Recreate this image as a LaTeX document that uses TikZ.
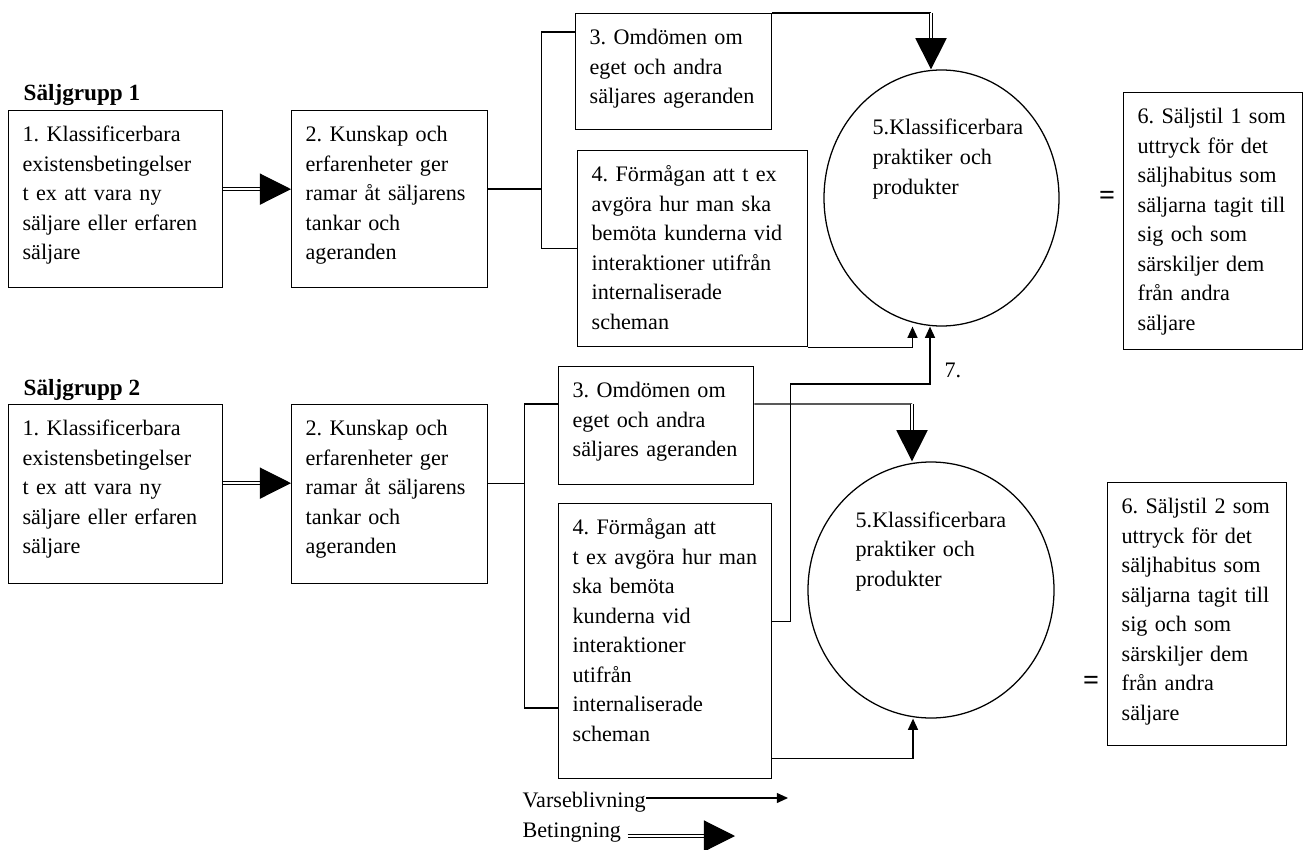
\documentclass[tikz,border=0pt]{standalone}
\usepackage{fontspec}
\setmainfont{Liberation Serif}
\usepackage{tikz}
\usetikzlibrary{arrows.meta,shapes.geometric}
\frenchspacing
\hyphenpenalty=10000
\tikzset{
    every node/.style={font=\fontsize{15.75pt}{21pt}\selectfont}
}
\tikzset{
    textbox/.style={draw, anchor=north west, align=left,
        inner xsep=0.35cm, inner ysep=0pt, text height=0.775cm},
    circ/.style={draw, ellipse, inner sep=0pt},
    txt/.style={align=left, inner sep=0pt, text width=4cm},
    lbl/.style={inner sep=0pt},
    eqs/.style={font=\fontsize{20pt}{24pt}\selectfont\bfseries}
}
\tikzset{
    perc/.style={-{Triangle[length=0.28cm, width=0.25cm]}},
    cond/.style={line width=0.8pt, double, double distance=1.5pt,
        -{Triangle[length=0.78cm, width=0.78cm]}}
}

\begin{document}
\begin{tikzpicture}[line width=0.9pt]
	\useasboundingbox (0cm, 0cm) rectangle (32.675cm, -21.25cm);

	% Saljgrupp 1
	\node (g1) [lbl, anchor=base west, font=\fontsize{16.5pt}{21pt}\selectfont\bfseries] at (0.575cm, -2.525cm) {Säljgrupp 1};
	\node (a1) [textbox, text width=4.65cm, text depth=3.65cm] at (0.2cm, -2.75cm) {1. Klassificerbara\\existensbetingelser\\t ex att vara ny\\säljare eller erfaren\\säljare};
	\node (a2) [textbox, text width=4.2cm, text depth=3.65cm] at (7.275cm, -2.75cm) {2. Kunskap och\\erfarenheter ger\\ramar åt säljarens\\tankar och\\ageranden};
	\node (a3) [textbox, text width=4.2cm, text depth=2.125cm] at (14.375cm, -0.325cm) {3. Omdömen om\\eget och andra\\säljares ageranden};
	\node (a4) [textbox, text width=5.05cm, text depth=4.125cm] at (14.425cm, -3.75cm) {4. Förmågan att t ex\\avgöra hur man ska\\bemöta kunderna vid\\interaktioner utifrån\\internaliserade\\scheman};
	\node (a5) [circ, minimum width=5.875cm, minimum height=6.4cm] at (23.5375cm, -4.95cm) {};
	\node (a5t) [txt, anchor=base west] at (21.8cm, -3.375cm) {5.Klassificerbara\\praktiker och\\produkter};
	\node (e1) [eqs] at (27.675cm, -4.95cm) {=};
	\node (a6) [textbox, text width=3.775cm, text depth=5.65cm] at (28.075cm, -2.3cm) {6. Säljstil 1 som\\uttryck för det\\säljhabitus som\\säljarna tagit till\\sig och som\\särskiljer dem\\från andra\\säljare};

	% Saljgrupp 2
	\node (g2) [lbl, anchor=base west, font=\fontsize{16.5pt}{21pt}\selectfont\bfseries] at (0.575cm, -9.875cm) {Säljgrupp 2};
	\node (b1) [textbox, text width=4.65cm, text depth=3.7cm] at (0.2cm, -10.1cm) {1. Klassificerbara\\existensbetingelser\\t ex att vara ny\\säljare eller erfaren\\säljare};
	\node (b2) [textbox, text width=4.2cm, text depth=3.7cm] at (7.275cm, -10.1cm) {2. Kunskap och\\erfarenheter ger\\ramar åt säljarens\\tankar och\\ageranden};
	\node (b3) [textbox, text width=4.175cm, text depth=2.175cm] at (13.95cm, -9.15cm) {3. Omdömen om\\eget och andra\\säljares ageranden};
	\node (b4) [textbox, text width=4.625cm, text depth=6.1cm] at (13.95cm, -12.575cm) {4. Förmågan att\\t ex avgöra hur man\\ska bemöta\\kunderna vid\\interaktioner\\utifrån\\internaliserade\\scheman};
	\node (b5) [circ, minimum width=6.15cm, minimum height=6.4cm] at (23.275cm, -14.75cm) {};
	\node (b5t) [txt, anchor=base west] at (21.375cm, -13.175cm) {5.Klassificerbara\\praktiker och\\produkter};
	\node (e2) [eqs] at (27.275cm, -17.075cm) {=};
	\node (b6) [textbox, text width=3.775cm, text depth=5.8cm] at (27.675cm, -12.05cm) {6. Säljstil 2 som\\uttryck för det\\säljhabitus som\\säljarna tagit till\\sig och som\\särskiljer dem\\från andra\\säljare};

	% legend
	\node (v) [lbl, anchor=base west] at (13.05cm, -20.175cm) {Varseblivning};
	\node (bt) [lbl, anchor=base west] at (13.05cm, -20.925cm) {Betingning};
	\node (n7) [lbl, anchor=base west] at (23.6cm, -9.425cm) {7.};

	\coordinate (k1) at (23.275cm, -0.325cm);
	\coordinate (k2) at (22.8cm, -10.1cm);
	\coordinate (k7) at (23.25cm, -9.6cm);
	\coordinate (ve) at (19.7cm, -19.95cm);
	\coordinate (be) at (18.375cm, -20.9cm);

	\draw[cond] ([yshift=0.25cm]a1.east) -- ([yshift=0.25cm]a2.west);
	\draw ([yshift=0.25cm]a2.east) -- ++(1.325cm, 0) coordinate (f1);
	\draw ([yshift=-0.475cm]a3.north west) -| (f1) |- (a4.west);
	\draw (a3.north east) -- (k1);
	\draw[cond] (k1) -- (k1 |- a5.north);
	\draw[perc] (a4.south east) -| ([xshift=-0.725cm]a5.south);

	\draw[cond] ([yshift=0.275cm]b1.east) -- ([yshift=0.275cm]b2.west);
	\draw ([yshift=0.275cm]b2.east) -- ++(0.9cm, 0) coordinate (f2);
	\draw ([yshift=-0.95cm]b3.north west) -| (f2) |- ([yshift=-5.125cm]b4.north west);
	\draw ([yshift=-0.95cm]b3.north east) -- (k2);
	\draw[cond] (k2) -- (k2 |- b5.north);
	\draw[perc] ([yshift=0.525cm]b4.south east) -| ([xshift=-0.45cm]b5.south);
	\draw[perc] ([yshift=0.5cm]b4.east) -- ++(0.45cm, 0) |- (k7) -- (k7 |- a5.south);

	\draw[perc] (v.east |- ve) -- (ve);
	\draw[cond] (bt.east |- be) ++(0.15cm, 0) -- (be);
\end{tikzpicture}
\end{document}
